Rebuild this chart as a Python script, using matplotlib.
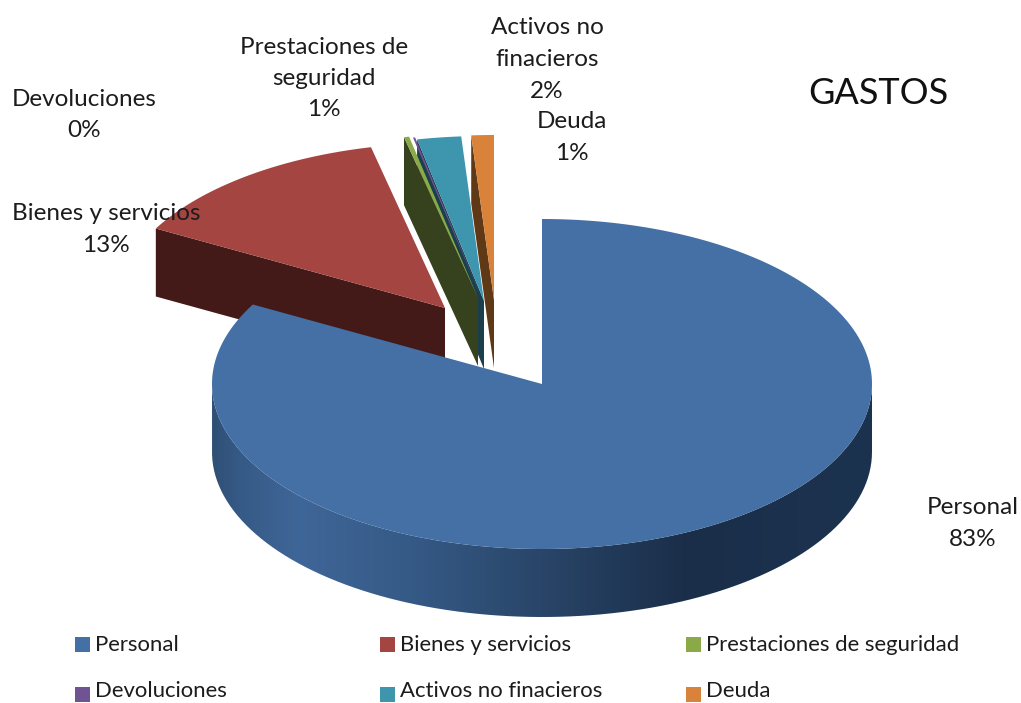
import numpy as np
import matplotlib
matplotlib.use("Agg")
import matplotlib.pyplot as plt
from matplotlib.patches import Polygon, Rectangle
from matplotlib.path import Path
from matplotlib.patches import PathPatch
from matplotlib.colors import LinearSegmentedColormap

categories = ["Personal", "Bienes y servicios", "Prestaciones de seguridad",
              "Devoluciones", "Activos no finacieros", "Deuda"]
values = [83.0, 13.4, 0.25, 0.1, 2.15, 1.1]
percent_labels = ["83%", "13%", "1%", "0%", "2%", "1%"]
title = "GASTOS"

plt.rcParams['font.family'] = ['Lato', 'DejaVu Sans']
top_colors = ["#4470a6", "#a54542", "#8aaa48", "#6f5393", "#3d96ae", "#d9823a"]
wall_colors = ["#1c3350", "#431a17", "#36411d", None, "#1b3f4d", "#5f3915"]
offsets = [(0, 0), (-97, -76), (-64, -86), (-60, -85), (-58, -83), (-48, -84)]
CX, CY, RX, RY, DEPTH = 542, 384, 330, 165, 68

fig = plt.figure(figsize=(10.21, 7.03), dpi=100)
ax = fig.add_axes([0, 0, 1, 1])


def arc(a0, a1, off=(0, 0), n=200):
    t = np.radians(np.linspace(a0, a1, n))
    return np.column_stack([CX + off[0] + RX * np.sin(t), CY + off[1] - RY * np.cos(t)])


edges = np.concatenate([[0], np.cumsum(values)]) * 3.6

# exploded slices, back to front
for i in [5, 4, 3, 2, 1]:
    a0, a1 = edges[i], edges[i + 1]
    off = offsets[i]
    apex = np.array([CX + off[0], CY + off[1]])
    outer = arc(a0, a1, off)
    p0 = outer[0]
    if wall_colors[i] is not None:
        wall = [p0, p0 + [0, DEPTH], apex + [0, DEPTH], apex]
        ax.add_patch(Polygon(wall, closed=True, fc=wall_colors[i], ec="none", zorder=2 + (5 - i) * 0.1))
    ax.add_patch(Polygon(np.vstack([[apex], outer]), closed=True, fc=top_colors[i], ec="none",
                         zorder=2.05 + (5 - i) * 0.1))

# main slice: curved side with a shaded band
front = arc(90, 270)
side = np.vstack([front, front[::-1] + [0, DEPTH]])
side_patch = PathPatch(Path(np.vstack([side, side[0]])), fc="none", ec="none", zorder=3)
ax.add_patch(side_patch)
cmap = LinearSegmentedColormap.from_list("side", [
    (0.00, "#2f5075"), (0.04, "#365a86"), (0.13, "#3f6698"), (0.30, "#355a86"),
    (0.50, "#294568"), (0.72, "#1a2e49"), (1.00, "#1c3350")])
img = ax.imshow(np.linspace(0, 1, 512)[None, :], cmap=cmap, aspect="auto", zorder=3,
                extent=(CX - RX, CX + RX, CY + RY + DEPTH + 2, CY - 2))
img.set_clip_path(side_patch)

top = np.vstack([[CX, CY], arc(edges[0], edges[1], n=400)])
ax.add_patch(Polygon(top, closed=True, fc=top_colors[0], ec="none", zorder=4))

ax.set_xlim(0, 1021)
ax.set_ylim(703, 0)
ax.axis("off")

TXT = "#1c1c1c"
FS = 17.5
LH = 31.5
label_pos = [(973, 508), (106, 214), (324, 47), (84, 99), (547, 28), (572, 122)]
label_lines = [["Personal"], ["Bienes y servicios"], ["Prestaciones de", "seguridad"],
               ["Devoluciones"], ["Activos no", "finacieros"], ["Deuda"]]
for lines, pct, (x, y) in zip(label_lines, percent_labels, label_pos):
    for k, s in enumerate(lines + [pct]):
        ax.text(x, y + k * LH, s, ha="center", va="center", fontsize=FS, color=TXT, zorder=6)

ax.text(878, 94, title, ha="center", va="center", fontsize=26, color="#111111", zorder=6)

legend_x = [75, 380, 686]
legend_y = [645, 695]
text_y = [645, 691]
for i, c in enumerate(categories):
    x, y = legend_x[i % 3], legend_y[i // 3]
    ax.add_patch(Rectangle((x, y - 8), 15, 15, fc=top_colors[i], ec="none", zorder=6))
    ax.text(x + 20, text_y[i // 3], c, ha="left", va="center", fontsize=15.9, color=TXT, zorder=6)

fig.savefig("out.png", dpi=100, facecolor="white")
